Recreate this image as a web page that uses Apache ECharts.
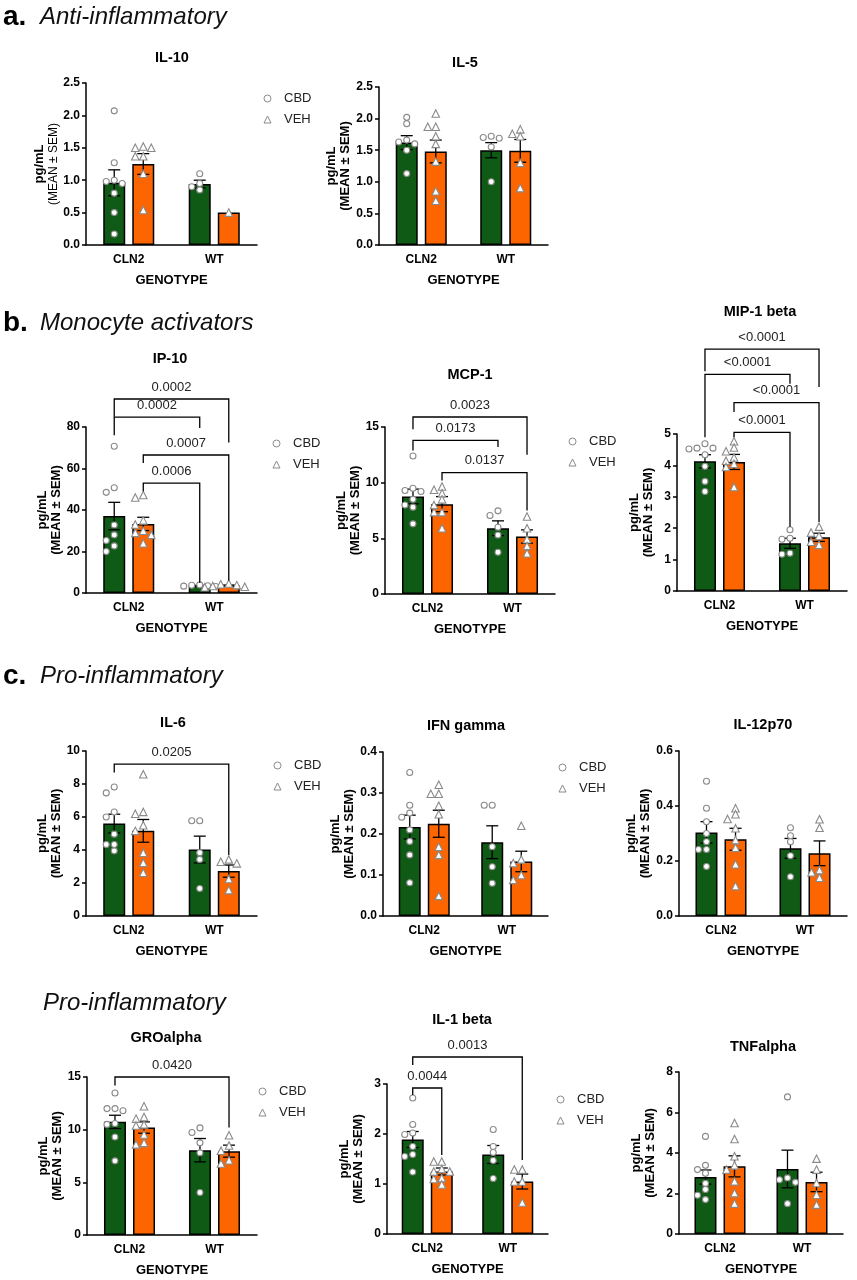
<!DOCTYPE html>
<html lang="en">
<head>
<meta charset="utf-8">
<title>Cytokine panels</title>
<script src="https://cdn.jsdelivr.net/npm/echarts@6/dist/echarts.min.js"></script>
<style>
    html, body { margin: 0; background: #fff; }
    #chart { width: 857px; height: 1280px; }
</style>
</head>
<body>
<div id="chart"></div>
<script>
// ---- data ----
var genotypes = ['CLN2', 'WT'];
var treatments = ['CBD', 'VEH'];
var cytokines = ['IL-10', 'IL-5', 'IP-10', 'MCP-1', 'MIP-1 beta', 'IL-6', 'IFN gamma', 'IL-12p70', 'GROalpha', 'IL-1 beta', 'TNFalpha'];

// y axis ticks per panel
var yTop = [2.5, 2.5, 80, 15, 5, 10, 0.4, 0.6, 15, 3, 8];
var yStep = [0.5, 0.5, 20, 5, 1, 2, 0.1, 0.2, 5, 1, 2];
var yDecimals = [1, 1, 0, 0, 0, 0, 1, 1, 0, 0, 0];

// bar order: CLN2 CBD, CLN2 VEH, WT CBD, WT VEH
var il10Mean = [0.96, 1.25, 0.94, 0.50];
var il10Sem = [0.20, 0.16, 0.06, 0];
var il10Pts = [[2.07, 1.27, 1.0, 0.98, 0.95, 0.8, 0.5, 0.17], [1.52, 1.5, 1.5, 1.37, 1.37, 1.1, 0.54], [1.1, 0.95, 0.9, 0.85], [0.5]];

var il5Mean = [1.62, 1.48, 1.50, 1.49];
var il5Sem = [0.11, 0.18, 0.12, 0.18];
var il5Pts = [[2.02, 1.92, 1.66, 1.63, 1.6, 1.5, 1.13], [2.08, 1.87, 1.87, 1.72, 1.6, 1.32, 0.85, 0.7], [1.72, 1.7, 1.69, 1.55, 1.0], [1.83, 1.76, 1.72, 1.3, 0.9]];

var ip10Mean = [37.1, 33.3, 3.5, 3.6];
var ip10Sem = [6.6, 3.2, 0.2, 0.25];
var ip10Pts = [[70.7, 50.7, 48.5, 32.8, 28, 25.3, 22.7, 20], [47.2, 46, 35, 33, 30, 29, 28, 24], [3.9, 3.7, 3.5, 3.3, 3.1], [4.6, 4.2, 3.8, 3.4, 3.0, 2.8]];
var ip10Sig = [[0, 3, 93.5, 85, 72.5, '0.0002'], [0, 2, 84.8, 76, 79.5, '0.0002'], [1, 3, 66.5, 62.6, 6, '0.0007'], [1, 2, 53, 49, 5, '0.0006']];

var mcp1Mean = [8.76, 8.07, 5.91, 5.16];
var mcp1Sem = [0.66, 0.68, 0.66, 0.6];
var mcp1Pts = [[12.4, 9.5, 9.3, 9.2, 8.5, 8.0, 7.8, 6.3], [9.66, 9.36, 9.06, 8.5, 8.0, 7.35, 7.35, 5.9], [7.47, 7.05, 6.0, 5.3, 3.75], [6.96, 5.9, 4.92, 4.32, 3.66]];
var mcp1Sig = [[0, 3, 15.9, 14.8, 12.5, '0.0023'], [0, 2, 13.8, 12.9, 13.2, '0.0173'], [1, 3, 10.9, 10.2, 7.5, '0.0137']];

var mip1bMean = [4.13, 4.11, 1.52, 1.71];
var mip1bSem = [0.21, 0.24, 0.16, 0.13];
var mip1bPts = [[4.69, 4.55, 4.55, 4.52, 4.34, 3.97, 3.49, 3.17], [4.77, 4.57, 4.45, 4.25, 4.15, 4.05, 3.95, 3.31], [1.95, 1.68, 1.65, 1.2, 1.17], [2.05, 1.86, 1.75, 1.57, 1.47]];
var mip1bSig = [[0, 3, 7.7, 7.0, 6.5, '<0.0001'], [0, 2, 6.9, 4.9, 6.6, '<0.0001'], [1, 3, 6.0, 5.7, 2.2, '<0.0001'], [1, 2, 5.05, 4.9, 2.05, '<0.0001']];

var il6Mean = [5.6, 5.16, 4.03, 2.72];
var il6Sem = [0.57, 0.69, 0.81, 0.37];
var il6Pts = [[7.82, 7.46, 6.3, 6.0, 4.96, 4.33, 4.33, 3.95], [8.59, 6.31, 6.2, 5.5, 5.16, 3.83, 3.23, 2.62], [5.77, 5.77, 3.83, 3.43, 1.67], [3.43, 3.29, 3.19, 2.24, 1.57]];
var il6Sig = [[0, 3, 9.2, 8.7, 3.7, '0.0205']];

var ifngMean = [0.217, 0.225, 0.18, 0.133];
var ifngSem = [0.029, 0.033, 0.04, 0.025];
var ifngPts = [[0.35, 0.27, 0.251, 0.241, 0.21, 0.182, 0.149, 0.081], [0.32, 0.298, 0.298, 0.269, 0.248, 0.169, 0.149, 0.049], [0.27, 0.27, 0.169, 0.12, 0.08], [0.22, 0.138, 0.129, 0.1, 0.088]];

var il12Mean = [0.304, 0.279, 0.246, 0.228];
var il12Sem = [0.039, 0.04, 0.036, 0.045];
var il12Pts = [[0.49, 0.392, 0.343, 0.3, 0.27, 0.242, 0.242, 0.18], [0.392, 0.37, 0.353, 0.319, 0.276, 0.248, 0.188, 0.109], [0.321, 0.292, 0.27, 0.219, 0.143], [0.352, 0.321, 0.167, 0.159, 0.139]];

var groaMean = [10.74, 10.2, 8.05, 7.96];
var groaSem = [0.63, 0.54, 1.11, 0.57];
var groaPts = [[13.48, 12.0, 12.0, 11.8, 10.58, 10.5, 9.31, 7.04], [12.22, 11.2, 11.05, 10.5, 10.4, 9.54, 8.75, 8.6], [10.17, 9.73, 8.75, 7.8, 4.04], [9.47, 8.5, 8.0, 7.1, 6.79]];
var groaSig = [[0, 3, 15.0, 14.2, 10.2, '0.0420']];

var il1bMean = [1.89, 1.25, 1.59, 1.05];
var il1bSem = [0.16, 0.07, 0.18, 0.15];
var il1bPts = [[2.72, 2.19, 2.02, 1.99, 1.75, 1.59, 1.55, 1.24], [1.45, 1.45, 1.3, 1.25, 1.25, 1.12, 1.1, 0.99], [2.09, 1.75, 1.63, 1.47, 1.11], [1.29, 1.29, 1.05, 1.05, 0.63]];
var il1bSig = [[0, 3, 3.54, 3.38, 1.48, '0.0013'], [0, 1, 2.92, 2.78, 1.58, '0.0044']];

var tnfaMean = [2.81, 3.34, 3.21, 2.57];
var tnfaSem = [0.35, 0.52, 0.93, 0.48];
var tnfaPts = [[4.82, 3.39, 3.18, 3.0, 2.5, 2.2, 1.91, 1.7], [5.48, 4.69, 3.84, 3.39, 3.18, 2.6, 2.02, 1.5], [6.77, 2.77, 2.68, 2.55, 1.5], [3.72, 3.18, 2.52, 1.94, 1.45]];

var means = [il10Mean, il5Mean, ip10Mean, mcp1Mean, mip1bMean, il6Mean, ifngMean, il12Mean, groaMean, il1bMean, tnfaMean];
var sems = [il10Sem, il5Sem, ip10Sem, mcp1Sem, mip1bSem, il6Sem, ifngSem, il12Sem, groaSem, il1bSem, tnfaSem];
var points = [il10Pts, il5Pts, ip10Pts, mcp1Pts, mip1bPts, il6Pts, ifngPts, il12Pts, groaPts, il1bPts, tnfaPts];
var sigs = [[], [], ip10Sig, mcp1Sig, mip1bSig, il6Sig, [], [], groaSig, il1bSig, []];

// ---- layout (pixels) ----
var layout = [
    { l: 86, r: 257, t: 83, b: 245, tx: 172, ty: 58, legend: [262, 94], lightSem: true },
    { l: 379, r: 548, t: 87, b: 245, tx: 465, ty: 63 },
    { l: 86, r: 257, t: 427, b: 593, tx: 170, ty: 359, legend: [271, 439] },
    { l: 385, r: 555, t: 427, b: 594, tx: 470, ty: 375, legend: [567, 437] },
    { l: 677, r: 847, t: 434, b: 591, tx: 760, ty: 312 },
    { l: 86, r: 257, t: 751, b: 916, tx: 173, ty: 723, legend: [272, 761] },
    { l: 383, r: 548, t: 752, b: 916, tx: 466, ty: 726, legend: [557, 763] },
    { l: 679, r: 847, t: 751, b: 916, tx: 763, ty: 725 },
    { l: 87, r: 257, t: 1077, b: 1235, tx: 166, ty: 1038, legend: [257, 1087] },
    { l: 387, r: 548, t: 1084, b: 1234, tx: 462, ty: 1020, legend: [555, 1095] },
    { l: 679, r: 843, t: 1072, b: 1234, tx: 763, ty: 1047 }
];
var headings = [['a.', 'Anti-inflammatory', 17], ['b.', 'Monocyte activators', 323], ['c.', 'Pro-inflammatory', 676], ['', 'Pro-inflammatory', 1003]];

var FONT = '"Liberation Sans", Arial, sans-serif';
var GREEN = '#0f5a15', ORANGE = '#fc6500', PT = '#8a8a8a';
var BAR_W = 22, BAR_GAP = 0.32;

// simple beeswarm: spread points that would overlap
function swarm(vals, pxPerUnit, step) {
    var placed = [];
    return vals.map(function (v) {
        var y = v * pxPerUnit;
        for (var k = 0; k < 9; k++) {
            var dx = (k % 2 ? -1 : 1) * Math.ceil(k / 2) * step;
            var hit = placed.some(function (q) {
                return Math.abs(q[0] - dx) < step * 0.9 && Math.abs(q[1] - y) < 6;
            });
            if (!hit) { placed.push([dx, y]); return dx; }
        }
        return 0;
    });
}

var grids = [], xAxes = [], yAxes = [], series = [], legends = [], graphics = [];

cytokines.forEach(function (name, i) {
    var L = layout[i];
    var w = L.r - L.l, h = L.b - L.t;
    var band = w / 2;
    var off = (BAR_W * (1 + BAR_GAP) / 2) / band;
    var xs = [-off, off, 1 - off, 1 + off];
    var m = means[i], s = sems[i];

    grids.push({ left: L.l, top: L.t, width: w, height: h });
    xAxes.push({
        type: 'category', gridIndex: i, data: genotypes,
        axisLine: { onZero: false, lineStyle: { color: '#000', width: 1.5 } },
        axisTick: { alignWithLabel: true, length: 5, lineStyle: { color: '#000', width: 1.5 } },
        axisLabel: { color: '#000', fontWeight: 'bold', fontSize: 12, fontFamily: FONT, margin: 9 },
        name: 'GENOTYPE', nameLocation: 'middle', nameGap: 29,
        nameTextStyle: { color: '#000', fontWeight: 'bold', fontSize: 13, fontFamily: FONT }
    });
    xAxes.push({ type: 'value', gridIndex: i, min: -0.5, max: 1.5, show: false });
    yAxes.push({
        type: 'value', gridIndex: i, min: 0, max: yTop[i], interval: yStep[i],
        splitLine: { show: false },
        axisLine: { show: true, onZero: false, lineStyle: { color: '#000', width: 1.5 } },
        axisTick: { show: true, length: 4, lineStyle: { color: '#000', width: 1.5 } },
        axisLabel: {
            color: '#000', fontWeight: 'bold', fontSize: 12, fontFamily: FONT, margin: 6,
            formatter: function (v) { return v.toFixed(yDecimals[i]); }
        },
        name: '{a|pg/mL}\n{b|(MEAN ± SEM)}', nameLocation: 'middle', nameGap: 22, nameRotate: 90,
        nameTextStyle: {
            color: '#000', fontFamily: FONT,
            rich: {
                a: { fontWeight: 'bold', fontSize: 13, lineHeight: 14, fontFamily: FONT, color: '#000' },
                b: { fontWeight: L.lightSem ? 'normal' : 'bold', fontSize: L.lightSem ? 12 : 13, lineHeight: 14, fontFamily: FONT, color: '#000' }
            }
        }
    });

    [0, 1].forEach(function (t) {
        series.push({
            type: 'bar', name: treatments[t] + ' bar', xAxisIndex: 2 * i, yAxisIndex: i,
            data: [m[t], m[2 + t]], barWidth: BAR_W, barGap: Math.round(BAR_GAP * 100) + '%',
            itemStyle: { color: t ? ORANGE : GREEN, borderColor: '#000', borderWidth: 1.5 },
            silent: true, z: 2
        });
    });

    series.push({
        type: 'custom', xAxisIndex: 2 * i + 1, yAxisIndex: i, z: 3, silent: true,
        data: xs.map(function (x, k) { return [x, m[k], s[k]]; }),
        encode: { x: 0, y: 1 },
        renderItem: function (params, api) {
            var x = api.value(0), mv = api.value(1), sv = api.value(2);
            if (!sv) return { type: 'group', children: [] };
            var top = api.coord([x, mv + sv]), bot = api.coord([x, mv - sv]);
            var c = 6, st = { stroke: '#000', lineWidth: 1.3 };
            return {
                type: 'group', children: [
                    { type: 'line', shape: { x1: top[0], y1: top[1], x2: bot[0], y2: bot[1] }, style: st },
                    { type: 'line', shape: { x1: top[0] - c, y1: top[1], x2: top[0] + c, y2: top[1] }, style: st },
                    { type: 'line', shape: { x1: bot[0] - c, y1: bot[1], x2: bot[0] + c, y2: bot[1] }, style: st }
                ]
            };
        }
    });

    var pxPerUnit = h / yTop[i];
    [0, 1].forEach(function (t) {
        var data = [];
        [0, 2].forEach(function (g) {
            var k = g + t;
            var vals = points[i][k];
            var dx = swarm(vals, pxPerUnit, 8);
            vals.forEach(function (v, j) { data.push([xs[k] + dx[j] / band, v]); });
        });
        series.push({
            type: 'scatter', name: treatments[t], xAxisIndex: 2 * i + 1, yAxisIndex: i,
            data: data, symbol: t ? 'triangle' : 'circle', symbolSize: t ? 7.5 : 6,
            itemStyle: { color: '#fff', borderColor: PT, borderWidth: 1.1, opacity: 1 },
            silent: true, z: 5
        });
    });

    var sig = sigs[i];
    if (sig.length) {
        series.push({
            type: 'custom', xAxisIndex: 2 * i + 1, yAxisIndex: i, z: 6, clip: false, silent: true,
            data: sig.map(function (b) { return [xs[b[0]], xs[b[1]], b[2], b[3], b[4]]; }),
            encode: { x: [0, 1], y: [2, 3, 4] },
            renderItem: function (params, api) {
                var x1 = api.value(0), x2 = api.value(1), y = api.value(2);
                var p1 = api.coord([x1, api.value(3)]), p2 = api.coord([x1, y]);
                var p3 = api.coord([x2, y]), p4 = api.coord([x2, api.value(4)]);
                return {
                    type: 'group', children: [
                        { type: 'polyline', shape: { points: [p1, p2, p3, p4] }, style: { stroke: '#000', lineWidth: 1.3, fill: null } },
                        {
                            type: 'text', x: (p2[0] + p3[0]) / 2, y: p2[1] - 12,
                            style: { text: sig[params.dataIndex][5], font: '13px ' + FONT, fill: '#222', align: 'center', verticalAlign: 'middle' }
                        }
                    ]
                };
            }
        });
    }

    graphics.push({
        type: 'text', x: L.tx, y: L.ty,
        style: { text: name, font: 'bold 14.5px ' + FONT, fill: '#000', align: 'center', verticalAlign: 'middle' }
    });

    if (L.legend) {
        legends.push({
            left: L.legend[0] - 3.5, top: L.legend[1] - 7, orient: 'vertical',
            itemWidth: 7, itemHeight: 7, itemGap: 8, selectedMode: false,
            textStyle: { fontFamily: FONT, fontSize: 13, color: '#222', padding: [0, 0, 0, 8] },
            data: [
                { name: 'CBD', icon: 'circle', itemStyle: { color: '#fff', borderColor: PT, borderWidth: 1 } },
                { name: 'VEH', icon: 'triangle', itemStyle: { color: '#fff', borderColor: PT, borderWidth: 1 } }
            ]
        });
    }
});

headings.forEach(function (hd) {
    if (hd[0]) {
        graphics.push({
            type: 'text', x: 3, y: hd[2],
            style: { text: hd[0], font: 'bold 28px ' + FONT, fill: '#000', verticalAlign: 'middle' }
        });
    }
    graphics.push({
        type: 'text', x: hd[0] ? 40 : 43, y: hd[2],
        style: { text: hd[1], font: 'italic 24px ' + FONT, fill: '#111', verticalAlign: 'middle' }
    });
});

var chart = echarts.init(document.getElementById('chart'), null, { renderer: 'canvas' });
chart.setOption({
    animation: false,
    backgroundColor: '#fff',
    textStyle: { fontFamily: FONT },
    grid: grids,
    xAxis: xAxes,
    yAxis: yAxes,
    legend: legends,
    graphic: graphics,
    series: series
});
</script>
</body>
</html>
